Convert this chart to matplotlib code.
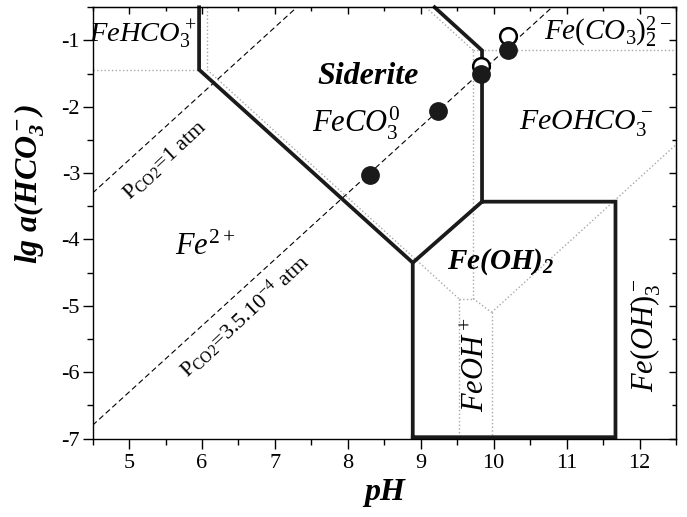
import matplotlib
matplotlib.use("Agg")
import matplotlib.pyplot as plt
from matplotlib.ticker import MultipleLocator, NullFormatter

plt.rcParams['font.family'] = ['Liberation Serif', 'DejaVu Serif']
plt.rcParams['axes.unicode_minus'] = False
plt.rcParams['mathtext.fontset'] = 'custom'
plt.rcParams['mathtext.rm'] = 'Liberation Serif'
plt.rcParams['mathtext.it'] = 'Liberation Serif:italic'
plt.rcParams['mathtext.bf'] = 'Liberation Serif:bold'
plt.rcParams['mathtext.bfit'] = 'Liberation Serif:italic:bold'

# solid phase boundaries (thick)
siderite_left_ph = [5.96, 5.96, 8.89]
siderite_left_lg = [-0.5, -1.44, -4.35]
feoh2_box_ph = [8.89, 8.89, 9.84, 11.67, 11.67, 8.89]
feoh2_box_lg = [-6.98, -4.35, -3.43, -3.43, -6.98, -6.98]
siderite_right_ph = [9.84, 9.84, 9.19]
siderite_right_lg = [-3.43, -1.15, -0.5]

# aqueous species boundaries (dotted)
aq_lines = [
    ([4.5, 5.96], [-1.44, -1.44]),
    ([6.07, 6.07], [-0.5, -1.44]),
    ([6.07, 9.52], [-1.44, -4.89]),
    ([9.52, 9.72], [-4.89, -4.89]),
    ([9.52, 9.52], [-4.89, -7.0]),
    ([9.72, 9.97], [-4.89, -5.10]),
    ([9.97, 9.97], [-5.10, -7.0]),
    ([9.97, 12.5], [-5.10, -2.57]),
    ([9.72, 9.72], [-4.89, -1.15]),
    ([9.72, 12.5], [-1.15, -1.15]),
    ([9.07, 9.72], [-0.5, -1.15]),
]

# CO2 partial pressure lines
pco2_1_ph = [4.5, 7.3]
pco2_1_lg = [-3.3, -0.5]
pco2_atm_ph = [4.5, 10.8]
pco2_atm_lg = [-6.8, -0.5]

# water samples
open_ph = [9.83, 10.2]
open_lg = [-1.39, -0.94]
filled_ph = [8.3, 9.24, 9.83, 10.2]
filled_lg = [-3.03, -2.06, -1.50, -1.15]

fig = plt.figure(figsize=(6.87, 5.17), dpi=100)
ax = fig.add_axes([0.1348, 0.1518, 0.8492, 0.8341])

for xs, ys in aq_lines:
    ax.plot(xs, ys, color='#a8a8a8', lw=1.0, ls=':')

ax.plot(pco2_1_ph, pco2_1_lg, color='black', lw=0.8, ls=(0, (5, 3)))
ax.plot(pco2_atm_ph, pco2_atm_lg, color='black', lw=0.8, ls=(0, (5, 3)))

for xs, ys in [(siderite_left_ph, siderite_left_lg),
               (feoh2_box_ph, feoh2_box_lg),
               (siderite_right_ph, siderite_right_lg)]:
    ax.plot(xs, ys, color='#1a1a1a', lw=2.7, solid_joinstyle='miter', clip_on=False)

ax.plot(open_ph, open_lg, 'o', ms=12, mfc='white', mec='black', mew=1.8, zorder=5)
ax.plot(filled_ph, filled_lg, 'o', ms=12.5, mfc='#1a1a1a', mec='#1a1a1a', zorder=6)

# species labels
ax.text(5.19, -0.92, r'$\mathit{FeHCO_3^+}$', fontsize=20.5, ha='center', va='center')
ax.text(8.28, -1.55, 'Siderite', fontsize=23, fontweight='bold', style='italic',
        ha='center', va='center')
ax.text(8.12, -2.25, r'$\mathit{FeCO_3^0}$', fontsize=22, ha='center', va='center')
ax.text(11.56, -0.88, r'$\mathit{Fe(CO_3)_2^{2-}}$', fontsize=21, ha='center', va='center')
ax.text(11.27, -2.25, r'$\mathit{FeOHCO_3^-}$', fontsize=21.5, ha='center', va='center')
ax.text(6.04, -4.12, r'$\mathit{Fe^{2+}}$', fontsize=22, ha='center', va='center')
ax.text(10.09, -4.34, r'$\mathbfit{Fe(OH)_2}$', fontsize=21, ha='center', va='center')
ax.text(9.76, -5.88, r'$\mathit{FeOH^+}$', fontsize=22, rotation=90,
        ha='center', va='center')
ax.text(12.08, -5.44, r'$\mathit{Fe(OH)_3^-}$', fontsize=22, rotation=90,
        ha='center', va='center')
ax.text(5.49, -2.8, r'P$_{\rm CO2}$=1 atm', fontsize=16, rotation=43,
        ha='center', va='center', rotation_mode='anchor')
ax.text(6.58, -5.15, r'P$_{\rm CO2}$=3.5.10$^{-4}$ atm', fontsize=16, rotation=43,
        ha='center', va='center', rotation_mode='anchor')

ax.set_xlim(4.5, 12.5)
ax.set_ylim(-7, -0.5)
ax.xaxis.set_major_locator(MultipleLocator(1))
ax.xaxis.set_minor_locator(MultipleLocator(0.5))
ax.yaxis.set_major_locator(MultipleLocator(1))
ax.yaxis.set_minor_locator(MultipleLocator(0.5))
ax.tick_params(which='both', direction='out', labelsize=16, width=1.0)
ax.tick_params(which='major', length=7)
ax.tick_params(which='minor', length=4)
ax.tick_params(axis='x', which='both', pad=4)
ax.tick_params(axis='y', which='both', pad=2)
for spine in ax.spines.values():
    spine.set_linewidth(1.0)

# inward ticks on the top and right frame
top = ax.secondary_xaxis('top')
top.xaxis.set_major_locator(MultipleLocator(1))
top.xaxis.set_minor_locator(MultipleLocator(0.5))
top.xaxis.set_major_formatter(NullFormatter())
top.tick_params(which='both', direction='in', width=1.0)
top.tick_params(which='major', length=5)
top.tick_params(which='minor', length=3)
right = ax.secondary_yaxis('right')
right.yaxis.set_major_locator(MultipleLocator(1))
right.yaxis.set_minor_locator(MultipleLocator(0.5))
right.yaxis.set_major_formatter(NullFormatter())
right.tick_params(which='both', direction='in', width=1.0)
right.tick_params(which='major', length=5)
right.tick_params(which='minor', length=3)

ax.set_xlabel('pH', fontsize=23, fontweight='bold', style='italic', labelpad=4)
ax.set_ylabel(r'$\mathbfit{lg\ a(HCO_3^-)}$', fontsize=23)
ax.yaxis.set_label_coords(-0.078, 0.59)

fig.savefig('out.png', dpi=100)
